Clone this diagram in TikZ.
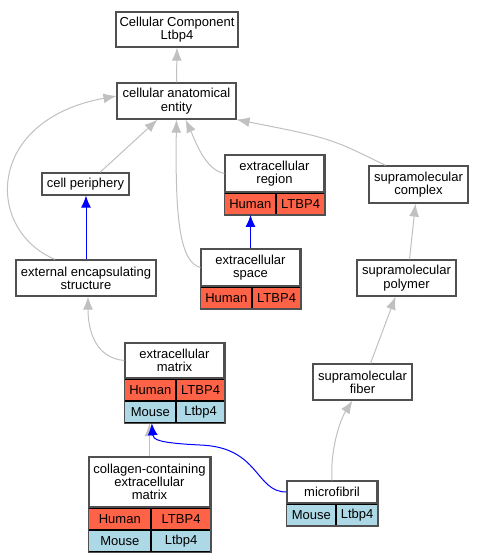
\documentclass[tikz,border=0pt]{standalone}
\usepackage{fontspec}
\setmainfont{Liberation Sans}
\usetikzlibrary{arrows.meta}
\definecolor{tomato}{HTML}{FF6347}
\definecolor{lightblue}{HTML}{ADD8E6}
\definecolor{edgegray}{HTML}{C0C0C0}
\definecolor{framegray}{HTML}{505050}
\begin{document}
\begin{tikzpicture}[
        x=1pt, y=-1pt,
        term/.style={draw=framegray, line width=1.2pt, fill=white, inner sep=0pt, align=center,
          font=\fontsize{13}{13.3}\selectfont},
        frame/.style={draw=framegray, line width=1.2pt},
        human/.style={draw=black, line width=0.8pt, fill=tomato, inner sep=0pt, anchor=north west,
          minimum height=21.5pt, font=\fontsize{13}{13.3}\selectfont},
        mouse/.style={human, fill=lightblue},
        isa/.style={draw=edgegray, line width=1pt, -{Latex[length=13pt,width=10pt]}},
        partof/.style={draw=blue, line width=1pt, -{Latex[length=12pt,width=10pt]}},
      ]
      \useasboundingbox (0,0) rectangle (484,560);

      \node[term, minimum width=122pt, minimum height=35pt] (top) at (177,29.5) {Cellular Component\\Ltbp4};
      \node[term, minimum width=119pt, minimum height=36pt] (cae) at (176.5,101) {cellular anatomical\\entity};
      \node[term, minimum width=87pt, minimum height=22pt] (cellp) at (85.5,184) {cell periphery};
      \node[term, minimum width=99pt, minimum height=37pt] (supcomplex) at (418.5,184.5) {supramolecular\\complex};
      \node[term, minimum width=140pt, minimum height=36pt] (extencap) at (86,278) {external encapsulating\\structure};
      \node[term, minimum width=99pt, minimum height=36pt] (suppoly) at (406.5,278) {supramolecular\\polymer};
      \node[term, minimum width=99pt, minimum height=36pt] (supfib) at (362.5,382) {supramolecular\\fiber};

      % extracellular region
      \node[term, minimum width=99pt, minimum height=37pt] (extreg) at (274.5,173.5) {extracellular\\region};
      \node[human, minimum width=51pt] (extreg-h1) at (extreg.south west) {Human};
      \node[human, minimum width=48pt] (extreg-h2) at (extreg-h1.north east) {LTBP4};
      \draw[frame] (extreg.north west) rectangle (extreg-h2.south east);

      % extracellular space
      \node[term, minimum width=99pt, minimum height=37pt] (extspace) at (250.5,267.5) {extracellular\\space};
      \node[human, minimum width=51pt] (extspace-h1) at (extspace.south west) {Human};
      \node[human, minimum width=48pt] (extspace-h2) at (extspace-h1.north east) {LTBP4};
      \draw[frame] (extspace.north west) rectangle (extspace-h2.south east);

      % extracellular matrix
      \node[term, minimum width=99pt, minimum height=35pt] (ecm) at (174.5,360.5) {extracellular\\matrix};
      \node[human, minimum width=51pt] (ecm-h1) at (ecm.south west) {Human};
      \node[human, minimum width=48pt] (ecm-h2) at (ecm-h1.north east) {LTBP4};
      \node[mouse, minimum width=51pt] (ecm-m1) at (ecm-h1.south west) {Mouse};
      \node[mouse, minimum width=48pt] (ecm-m2) at (ecm-m1.north east) {Ltbp4};
      \draw[frame] (ecm.north west) rectangle (ecm-m2.south east);

      % collagen-containing extracellular matrix
      \node[term, minimum width=121pt, minimum height=50pt] (coll) at (149.5,482) {collagen-containing\\extracellular\\matrix};
      \node[human, minimum width=62pt] (coll-h1) at (coll.south west) {Human};
      \node[human, minimum width=59pt] (coll-h2) at (coll-h1.north east) {LTBP4};
      \node[mouse, minimum width=62pt] (coll-m1) at (coll-h1.south west) {Mouse};
      \node[mouse, minimum width=59pt] (coll-m2) at (coll-m1.north east) {Ltbp4};
      \draw[frame] (coll.north west) rectangle (coll-m2.south east);

      % microfibril
      \node[term, minimum width=90pt, minimum height=22pt] (microfib) at (332,492) {microfibril};
      \node[mouse, minimum width=49pt] (microfib-m1) at (microfib.south west) {Mouse};
      \node[mouse, minimum width=41pt] (microfib-m2) at (microfib-m1.north east) {Ltbp4};
      \draw[frame] (microfib.north west) rectangle (microfib-m2.south east);

      \draw[isa] (cae.north) -- (top.south);
      \draw[isa] ([xshift=14.5pt]cellp.north) -- ([xshift=-19pt]cae.south);
      \draw[isa] ([xshift=-31pt]extencap.north) .. controls (-15,230) and (-15,120) .. ([yshift=5pt]cae.west);
      \draw[isa] (extspace.west) .. controls (180,262) and (175,220) .. (cae.south);
      \draw[isa] (extreg.west) .. controls (205,170) and (195,140) .. ([xshift=9pt]cae.south);
      \draw[isa] ([xshift=-33pt]supcomplex.north) .. controls (330,138) .. (cae.south east);
      \draw[isa] (ecm.west) .. controls (95,358) and (88,330) .. ([xshift=2pt]extencap.south);
      \draw[isa] ([xshift=3pt]suppoly.north) -- ([xshift=-3pt]supcomplex.south);
      \draw[isa] ([xshift=8pt]supfib.north) -- ([xshift=-11pt]suppoly.south);
      \draw[isa] (microfib.north) .. controls (330,450) and (340,420) .. ([xshift=-10pt]supfib.south);
      \draw[isa] (coll.north) -- (coll.north |- ecm-m1.south);

      \draw[partof] (extencap.north) -- (extencap.north |- cellp.south);
      \draw[partof] (extspace.north) -- (extspace.north |- extreg-h1.south);
      \draw[partof] (microfib.west) .. controls (255,492) and (260,447) .. (200,445)
        .. controls (160,443) and (153,440) .. ([xshift=1.5pt]ecm-m1.south);

    \end{tikzpicture}
\end{document}
